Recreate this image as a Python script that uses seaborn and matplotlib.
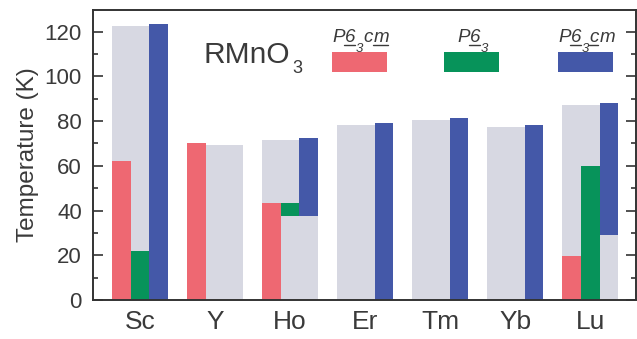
import numpy as np
import pandas as pd
import matplotlib
matplotlib.use("Agg")
import matplotlib.pyplot as plt
import seaborn as sns
from matplotlib.patches import Rectangle
from matplotlib.lines import Line2D
from matplotlib.transforms import IdentityTransform
from matplotlib.ticker import MultipleLocator

# ---- data ----
categories = ["Sc", "Y", "Ho", "Er", "Tm", "Yb", "Lu"]
grey_top = [122.5, 69.5, 71.6, 78.3, 80.5, 77.3, 87.2]
red_bottom = [0, 0, 0, np.nan, np.nan, np.nan, 0]
red_top = [62.0, 70.0, 43.3, np.nan, np.nan, np.nan, 19.8]
green_bottom = [0, np.nan, 37.6, np.nan, np.nan, np.nan, 0]
green_top = [22.0, np.nan, 43.3, np.nan, np.nan, np.nan, 60.1]
blue_bottom = [0, np.nan, 37.6, 0, 0, 0, 29.1]
blue_top = [123.4, np.nan, 72.3, 79.0, 81.3, 78.1, 88.0]
# legend labels: (text, is_subscript, underlined)
legend_pieces = [
    [("P", False, False), ("6", False, True), ("3", True, False), ("c", False, False), ("m", False, True)],
    [("P", False, False), ("6", False, True), ("3", True, False)],
    [("P", False, False), ("6", False, True), ("3", True, False), ("c", False, True), ("m", False, False)],
]
compound_main = "RMnO"
compound_sub = "3"
ylabel = "Temperature (K)"

RED = "#ee6872"
GREEN = "#07935a"
BLUE = "#4458a8"
GREY = "#d7d8e2"
TXT = "#3a3a3a"

sns.set_theme(style="ticks")
plt.rcParams["font.family"] = ["Liberation Sans", "DejaVu Sans"]

fig = plt.figure(figsize=(6.37, 3.39), dpi=100)
ax = fig.add_axes([93 / 637, 39 / 339, 543 / 637, 290 / 339])

df = pd.DataFrame({"cat": categories, "grey": grey_top})
sns.barplot(data=df, x="cat", y="grey", order=categories, color=GREY,
            saturation=1, width=0.75, linewidth=0, ax=ax)

x = np.arange(len(categories))
w = 0.25
for off, b, t, c in [(-w, red_bottom, red_top, RED),
                     (0.0, green_bottom, green_top, GREEN),
                     (w, blue_bottom, blue_top, BLUE)]:
    b = np.array(b, float)
    t = np.array(t, float)
    m = ~np.isnan(t)
    ax.bar(x[m] + off, t[m] - b[m], bottom=b[m], width=w, color=c, linewidth=0)

ax.set_xlim(-0.627, 6.61)
ax.set_ylim(0, 129.7)
ax.set_xlabel("")
ax.set_ylabel(ylabel, fontsize=17.5, color=TXT, labelpad=4)
ax.yaxis.set_major_locator(MultipleLocator(20))
ax.yaxis.set_minor_locator(MultipleLocator(10))
ax.tick_params(axis="y", which="both", direction="in", left=True, right=True,
               labelsize=16, labelcolor=TXT, color="#333333", width=1.2, pad=8)
ax.tick_params(axis="y", which="major", length=7)
ax.tick_params(axis="y", which="minor", length=3.5)
ax.tick_params(axis="x", length=0, labelsize=19, labelcolor=TXT, pad=7)
for s in ax.spines.values():
    s.set_color("#333333")
    s.set_linewidth(1.4)

renderer = fig.canvas.get_renderer()

def ax_px(px, py):
    return ((px - 93) / 543, (300 - py) / 290)

# compound label RMnO3
t_main = ax.annotate(compound_main, xy=ax_px(203, 63), xycoords="axes fraction",
                     fontsize=21.5, color=TXT, ha="left", va="baseline")
wmain = t_main.get_window_extent(renderer).width
ax.annotate(compound_sub, xy=ax_px(203, 63), xycoords="axes fraction",
            xytext=(wmain + 3, -10), textcoords="offset pixels",
            fontsize=13, color=TXT, ha="left", va="baseline")

# legend
centers_px = [361, 473, 587]
colors = [RED, GREEN, BLUE]
underlined = []
for pieces, c, cxp in zip(legend_pieces, colors, centers_px):
    ax.add_patch(Rectangle(ax_px(cxp - 2 - 27.5, 72), 55 / 543, 20 / 290,
                           transform=ax.transAxes, color=c, lw=0, clip_on=False))
    anchor = ax_px(cxp, 42)
    items = []
    xo = 0.0
    for s, sub, ul in pieces:
        fs = 9.5 if sub else 13.5
        dy = -10 if sub else 0
        t = ax.annotate(s, xy=anchor, xycoords="axes fraction", xytext=(xo, dy),
                        textcoords="offset pixels", fontsize=fs, style="italic",
                        color=TXT, ha="left", va="baseline")
        wd = t.get_window_extent(renderer).width
        items.append((t, xo, dy))
        if ul:
            underlined.append((t, anchor))
        xo += wd + 0.5
    shift = -xo / 2
    for t, x0, dy in items:
        t.xyann = (x0 + shift, dy)

fig.canvas.draw()
for t, anchor in underlined:
    bb = t.get_window_extent(fig.canvas.get_renderer())
    yb = ax.transAxes.transform(anchor)[1] - 2.5
    fig.add_artist(Line2D([bb.x0 - 1, bb.x1 - 1], [yb, yb], transform=IdentityTransform(),
                          color=TXT, lw=1.0))

fig.savefig("out.png", dpi=100)
